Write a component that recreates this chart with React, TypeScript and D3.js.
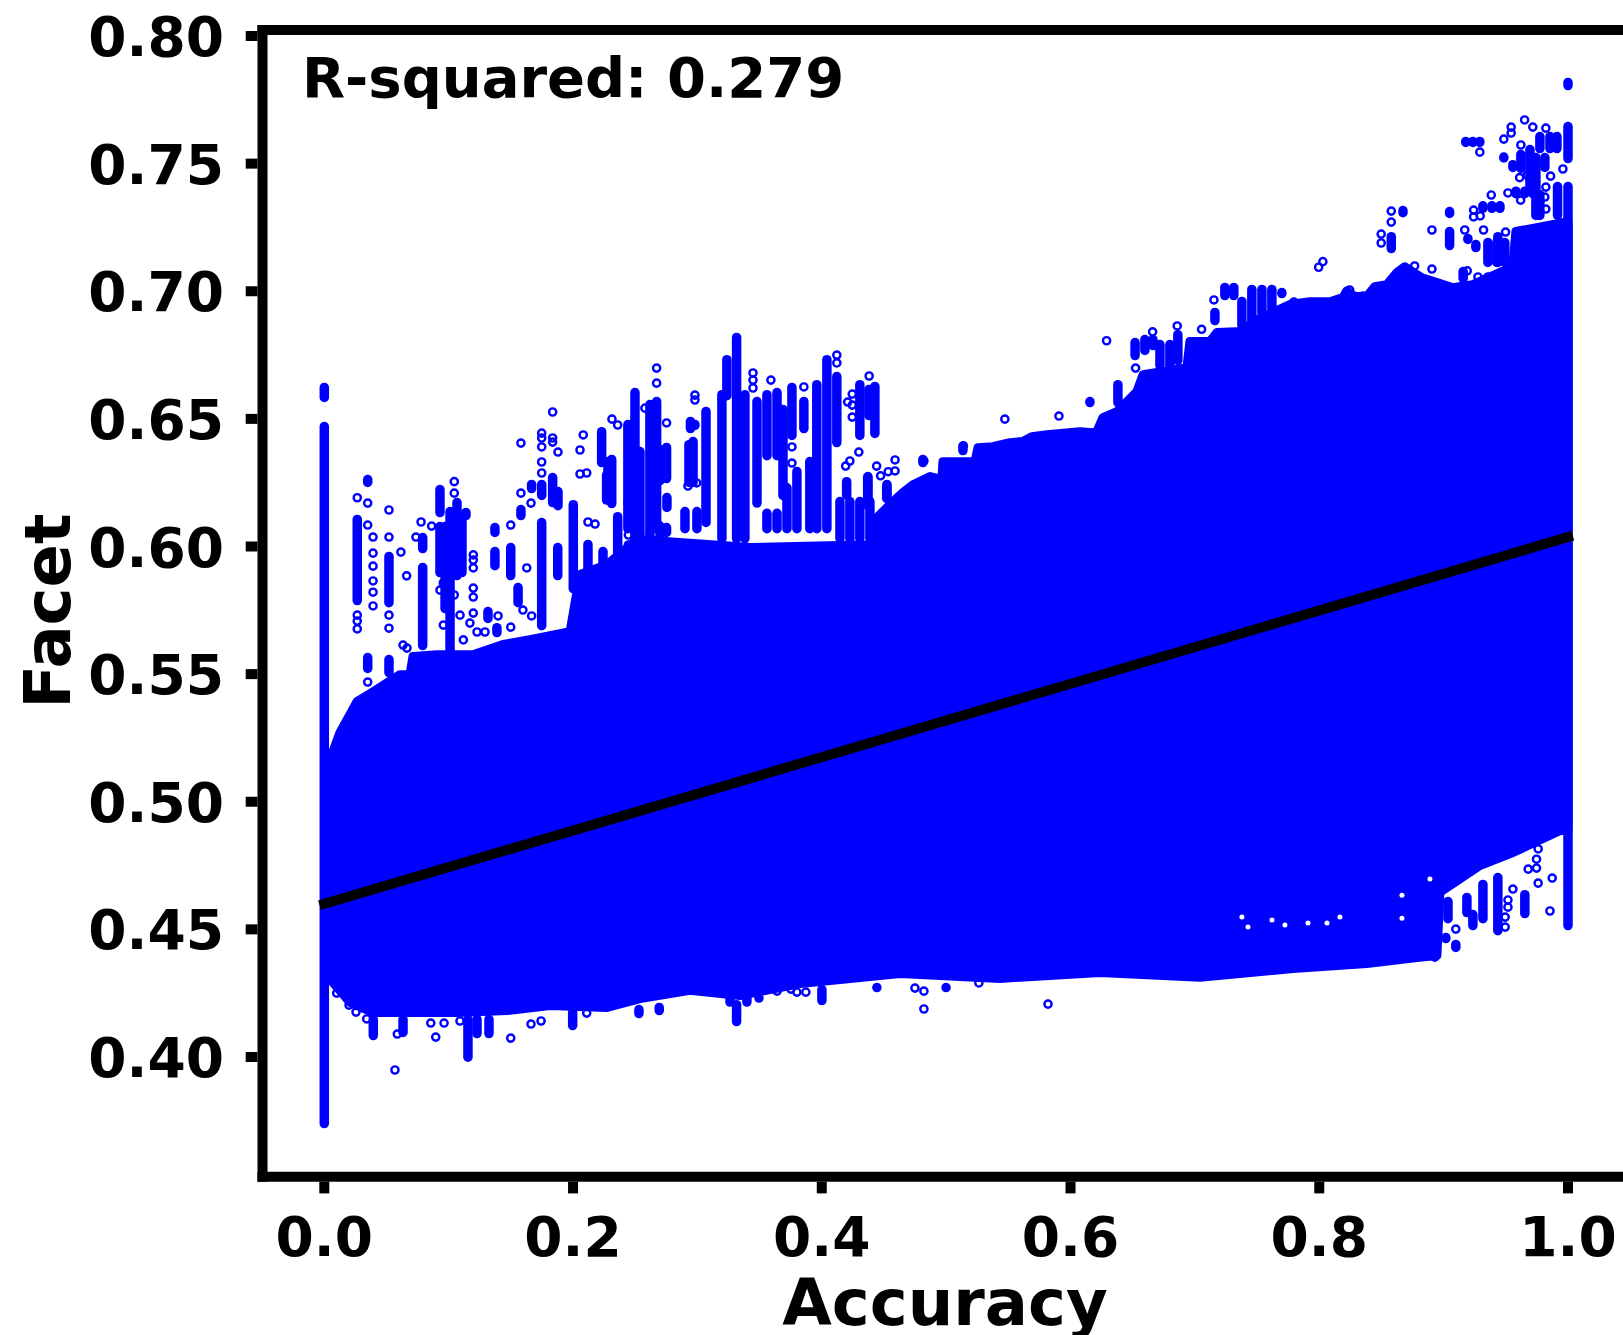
import React from 'react';
import * as d3 from 'd3';

const WIDTH = 1623;
const HEIGHT = 1335;
const BLUE = '#0000ff';
const FONT = '"DejaVu Sans", sans-serif';

const xTicks = [0, 0.2, 0.4, 0.6, 0.8, 1.0];
const yTicks = [0.4, 0.45, 0.5, 0.55, 0.6, 0.65, 0.7, 0.75, 0.8];

// regression line
const fitAccuracy = [0, 1];
const fitFacet = [0.46, 0.6037];
const rSquared = '0.279';

// outline of the solid part of the cloud: [accuracy, facet]
const upperEdge: [number, number][] = [
  [0.0046, 0.5165], [0.0126, 0.5271], [0.0263, 0.5392], [0.0392, 0.5431], [0.0609, 0.5498], [0.0689, 0.5498],
  [0.0713, 0.5569], [0.0906, 0.5576], [0.1195, 0.5576], [0.1437, 0.5616], [0.1654, 0.5635], [0.1976, 0.5666],
  [0.2056, 0.589], [0.2273, 0.5929], [0.2514, 0.6027], [0.3423, 0.5996], [0.4403, 0.6007], [0.4444, 0.6113],
  [0.4572, 0.6176], [0.4653, 0.6211], [0.4733, 0.6242], [0.487, 0.6274], [0.4966, 0.6262], [0.4974, 0.6332],
  [0.5111, 0.6332], [0.5232, 0.6332], [0.5256, 0.6387], [0.5376, 0.6391], [0.5513, 0.6407], [0.5617, 0.6411],
  [0.569, 0.643], [0.5811, 0.6438], [0.6076, 0.645], [0.618, 0.6446], [0.6212, 0.645], [0.6261, 0.6505],
  [0.6373, 0.6528], [0.6534, 0.6607], [0.6583, 0.6673], [0.6936, 0.6701], [0.696, 0.6803], [0.7121, 0.6803],
  [0.7177, 0.6838], [0.7387, 0.6842], [0.7467, 0.6881], [0.7764, 0.6948], [0.7925, 0.6959], [0.8086, 0.6959],
  [0.819, 0.6975], [0.8222, 0.7002], [0.8287, 0.6979], [0.8383, 0.6979], [0.8447, 0.7018], [0.8544, 0.7026],
  [0.8624, 0.7073], [0.8688, 0.7096], [0.8825, 0.7053], [0.8946, 0.7034], [0.9075, 0.7014], [0.9235, 0.7026],
  [0.9557, 0.7097], [0.9581, 0.7234], [1.0, 0.7273],
];
const lowerEdge: [number, number][] = [
  [0.007, 0.4292], [0.0207, 0.4214], [0.0392, 0.4174], [0.0713, 0.4174], [0.1067, 0.4174], [0.1469, 0.4182],
  [0.1815, 0.4202], [0.2273, 0.4194], [0.2538, 0.4229], [0.294, 0.4261], [0.3342, 0.4241], [0.3825, 0.4288],
  [0.463, 0.4327], [0.5432, 0.4308], [0.6237, 0.4331], [0.704, 0.4312], [0.7788, 0.4347], [0.8383, 0.4366],
  [0.8785, 0.439], [0.8946, 0.4398], [0.897, 0.4645], [0.9291, 0.475], [0.9557, 0.4801], [0.9934, 0.4887],
  [1.0, 0.4887],
];

// columns of markers packed so tight they read as bars: [accuracy, top, bottom]
const stacks: [number, number, number][] = [
  [0, 0.6623, 0.6584], [0, 0.647, 0.3739], [1, 0.7818, 0.7806], [1, 0.7645, 0.752], [1, 0.741, 0.4515],
  [0.0265, 0.6106, 0.5788], [0.0349, 0.6262, 0.6251], [0.0349, 0.5565, 0.5522], [0.052, 0.5961, 0.578],
  [0.052, 0.5557, 0.5506], [0.0791, 0.6035, 0.5992], [0.0791, 0.5918, 0.5612], [0.093, 0.6223, 0.6133],
  [0.093, 0.6078, 0.5898], [0.0971, 0.6078, 0.5757], [0.1011, 0.6137, 0.5584], [0.1067, 0.6172, 0.5886],
  [0.1107, 0.6106, 0.5898], [0.1139, 0.6133, 0.6121], [0.1316, 0.5745, 0.5718], [0.1388, 0.5682, 0.5663],
  [0.1372, 0.6074, 0.6055], [0.1372, 0.598, 0.5925],
  [0.1499, 0.5996, 0.5886], [0.1558, 0.5839, 0.578], [0.1748, 0.6094, 0.569], [0.1748, 0.6243, 0.62],
  [0.1667, 0.6243, 0.6227], [0.1581, 0.6145, 0.6121], [0.1836, 0.627, 0.6172], [0.1879, 0.6215, 0.616],
  [0.1877, 0.5996, 0.5886], [0.2002, 0.6164, 0.5835], [0.212, 0.6008, 0.5914], [0.223, 0.645, 0.6329],
  [0.227, 0.628, 0.6182], [0.2311, 0.6341, 0.6168], [0.2241, 0.598, 0.5937],
  [0.2281, 0.6333, 0.6251], [0.2359, 0.6117, 0.5976], [0.2474, 0.6478, 0.6423], [0.2474, 0.6368, 0.62],
  [0.2441, 0.6478, 0.607], [0.2498, 0.6603, 0.6031], [0.2538, 0.6372, 0.6015], [0.2618, 0.6556, 0.6015],
  [0.2672, 0.6568, 0.607], [0.2752, 0.6388, 0.6266], [0.2752, 0.6074, 0.6055], [0.2699, 0.638, 0.6258],
  [0.2699, 0.608, 0.6015], [0.2667, 0.6192, 0.616], [0.2755, 0.6192, 0.6153], [0.2965, 0.6411, 0.6251],
  [0.2944, 0.649, 0.6462],
  [0.2932, 0.6399, 0.6251], [0.3069, 0.6529, 0.6094], [0.298, 0.6478, 0.6474], [0.29, 0.6137, 0.607],
  [0.2996, 0.6137, 0.607], [0.3237, 0.6732, 0.6591], [0.3315, 0.6819, 0.6031], [0.3197, 0.6595, 0.6031],
  [0.3382, 0.6595, 0.6031], [0.3479, 0.6568, 0.617], [0.3559, 0.6595, 0.6356], [0.3559, 0.613, 0.607],
  [0.364, 0.6603, 0.6356], [0.364, 0.613, 0.607], [0.372, 0.623, 0.607],
  [0.3688, 0.6537, 0.62], [0.376, 0.6623, 0.6435], [0.38, 0.6294, 0.607], [0.3856, 0.6568, 0.6462],
  [0.3904, 0.6333, 0.607], [0.396, 0.6634, 0.607], [0.4041, 0.6732, 0.607], [0.4121, 0.6666, 0.6407],
  [0.4306, 0.6634, 0.6435], [0.4379, 0.6615, 0.6513], [0.4427, 0.6627, 0.6443], [0.42, 0.6254, 0.62],
  [0.4369, 0.627, 0.6172], [0.4371, 0.6274, 0.616], [0.4522, 0.6235, 0.6188], [0.4524, 0.6243, 0.62],
  [0.4146, 0.6176, 0.6031], [0.4226, 0.6176, 0.6031], [0.4306, 0.6176, 0.6031], [0.4387, 0.6176, 0.6031],
  [0.4813, 0.6341, 0.6329], [0.5135, 0.6392, 0.6376],
  [0.6156, 0.6568, 0.6564], [0.6381, 0.6634, 0.6564], [0.6519, 0.6799, 0.6748], [0.6598, 0.6811, 0.6768],
  [0.6663, 0.6811, 0.6787], [0.6719, 0.6791, 0.6709], [0.6799, 0.6791, 0.6709], [0.6863, 0.683, 0.6729],
  [0.696, 0.6772, 0.6736], [0.7161, 0.6917, 0.6885], [0.7241, 0.7015, 0.6983], [0.7313, 0.7015, 0.6983],
  [0.7378, 0.696, 0.6866], [0.7458, 0.7007, 0.6866], [0.7539, 0.7007, 0.6917], [0.7619, 0.7007, 0.6932],
  [0.7699, 0.6995, 0.6991],
  [0.8579, 0.7214, 0.7167], [0.8673, 0.7316, 0.7308], [0.9048, 0.7312, 0.7305], [0.9048, 0.7234, 0.7179],
  [0.9157, 0.7077, 0.705],
  [0.9178, 0.7587, 0.7583], [0.9235, 0.7587, 0.7583], [0.9291, 0.7587, 0.7583], [0.9259, 0.7183, 0.7171],
  [0.9195, 0.7207, 0.7203], [0.9356, 0.7191, 0.7113], [0.9428, 0.7191, 0.7113], [0.9492, 0.7191, 0.7113],
  [0.9436, 0.7214, 0.7113], [0.9316, 0.7335, 0.7325], [0.9388, 0.7335, 0.7325], [0.9453, 0.7335, 0.7325],
  [0.9581, 0.7392, 0.7382], [0.9653, 0.7392, 0.7382], [0.9717, 0.7392, 0.7382], [0.9742, 0.7524, 0.7297],
  [0.9621, 0.7536, 0.7481], [0.9557, 0.7496, 0.7485], [0.9484, 0.7526, 0.7522], [0.9774, 0.7606, 0.7559],
  [0.9855, 0.7606, 0.7559], [0.9911, 0.7606, 0.7559], [0.9694, 0.7555, 0.7414], [0.9814, 0.7524, 0.7485],
  [0.9916, 0.741, 0.7297], [0.9774, 0.7379, 0.7297],
  [0.0394, 0.4147, 0.4084], [0.0633, 0.4147, 0.4096], [0.1155, 0.4147, 0.3999], [0.1228, 0.4147, 0.4092],
  [0.1324, 0.4147, 0.4092], [0.1997, 0.4174, 0.4123], [0.253, 0.4186, 0.417], [0.2693, 0.4194, 0.4182],
  [0.3315, 0.4205, 0.4139], [0.3262, 0.4229, 0.4215], [0.3398, 0.4229, 0.4215], [0.3495, 0.4231, 0.4231],
  [0.4001, 0.4264, 0.4221], [0.4443, 0.4272, 0.4272], [0.4999, 0.4272, 0.4272],
  [0.9035, 0.4609, 0.4542], [0.9187, 0.4625, 0.4566], [0.9316, 0.4676, 0.4542], [0.9436, 0.4703, 0.4495],
  [0.9235, 0.4558, 0.4515], [0.9653, 0.4636, 0.4562], [0.9098, 0.4441, 0.4429], [0.9018, 0.4468, 0.4464],
];

// markers that stand on their own: [accuracy, facet]
const loosePoints: [number, number][] = [
  [0.0265, 0.6191], [0.0265, 0.5731], [0.0265, 0.5708], [0.0265, 0.5677], [0.0349, 0.617], [0.0349, 0.6084],
  [0.0349, 0.5469], [0.0392, 0.6037], [0.0392, 0.5974], [0.0392, 0.5923], [0.0392, 0.5865], [0.0392, 0.5821],
  [0.0392, 0.5767], [0.052, 0.6143], [0.052, 0.6037], [0.052, 0.5731], [0.052, 0.568], [0.0616, 0.5978],
  [0.0662, 0.5885], [0.0633, 0.5614], [0.0665, 0.5602], [0.0778, 0.6096], [0.0737, 0.6037], [0.0863, 0.608],
  [0.1045, 0.6254], [0.1045, 0.6209], [0.1198, 0.5967], [0.1198, 0.5947], [0.1198, 0.5916], [0.1198, 0.5837],
  [0.1198, 0.5802], [0.1198, 0.5739], [0.1499, 0.6084], [0.1628, 0.5916], [0.1748, 0.6444], [0.1748, 0.6425],
  [0.1748, 0.639], [0.1748, 0.6331], [0.1748, 0.6288], [0.1581, 0.6405], [0.1581, 0.6209], [0.1662, 0.617],
  [0.1171, 0.57], [0.1228, 0.5665], [0.1292, 0.5665], [0.1397, 0.5728], [0.1499, 0.5684], [0.1597, 0.5751],
  [0.1667, 0.5728], [0.1091, 0.5731], [0.1045, 0.581], [0.0957, 0.5692], [0.093, 0.5829], [0.0957, 0.5857],
  [0.1118, 0.5634],
  [0.1836, 0.6527], [0.1836, 0.6425], [0.1836, 0.6409], [0.1879, 0.637], [0.2056, 0.6378], [0.2056, 0.6284],
  [0.211, 0.6288], [0.2082, 0.6437], [0.2313, 0.6499], [0.2359, 0.6476], [0.2672, 0.6699], [0.2672, 0.664],
  [0.212, 0.6096], [0.2177, 0.6088], [0.2442, 0.617], [0.2445, 0.6076], [0.2445, 0.6045], [0.2445, 0.6006],
  [0.2924, 0.6237], [0.2994, 0.6249], [0.2578, 0.6542],
  [0.2752, 0.6484], [0.298, 0.6593], [0.298, 0.6574], [0.3447, 0.668], [0.3447, 0.6652], [0.3447, 0.6621],
  [0.3591, 0.6652], [0.376, 0.639], [0.376, 0.6327], [0.3856, 0.6625], [0.4121, 0.675], [0.4121, 0.6719],
  [0.4245, 0.6597], [0.4245, 0.6554], [0.4245, 0.6507], [0.4208, 0.6566], [0.4381, 0.6668], [0.4298, 0.637],
  [0.4226, 0.6335], [0.4192, 0.6315], [0.4441, 0.6315], [0.4589, 0.6339], [0.4589, 0.6296], [0.4534, 0.6293],
  [0.4473, 0.6277], [0.4821, 0.6335], [0.5472, 0.6499], [0.5138, 0.6395], [0.5907, 0.6511], [0.629, 0.6806],
  [0.6523, 0.6699], [0.666, 0.6841], [0.6858, 0.6864], [0.7054, 0.6851], [0.7153, 0.6966], [0.7796, 0.6958],
  [0.8244, 0.7005], [0.8351, 0.6981], [0.8029, 0.7116], [0.7995, 0.7094], [0.8579, 0.7314], [0.8579, 0.7271],
  [0.8498, 0.7224], [0.8498, 0.7189], [0.8906, 0.724], [0.917, 0.724], [0.9321, 0.724], [0.9498, 0.7232],
  [0.8767, 0.7099], [0.8906, 0.7087], [0.919, 0.708], [0.9276, 0.7056], [0.9356, 0.7056], [0.9316, 0.7013],
  [0.9651, 0.7671], [0.9717, 0.7643], [0.9822, 0.7639], [0.9543, 0.7643], [0.9543, 0.762], [0.9484, 0.7596],
  [0.9621, 0.7573], [0.9291, 0.7545], [0.986, 0.7451], [0.9959, 0.7479], [0.9611, 0.7445], [0.9672, 0.7455],
  [0.9517, 0.7385], [0.9383, 0.7377], [0.9822, 0.7408], [0.9814, 0.7369], [0.9822, 0.7322], [0.9619, 0.7357],
  [0.9241, 0.7318], [0.9241, 0.7291], [0.9294, 0.7295],
  [0.0568, 0.3949], [0.0587, 0.409], [0.0896, 0.4078], [0.1499, 0.4074], [0.1662, 0.4129], [0.1743, 0.4141],
  [0.211, 0.4172], [0.0856, 0.4133], [0.0963, 0.4133], [0.1091, 0.4141], [0.01, 0.425], [0.0199, 0.4203],
  [0.0255, 0.4176], [0.0341, 0.4149], [0.364, 0.4258], [0.3752, 0.4266], [0.38, 0.4254], [0.3872, 0.4254],
  [0.4821, 0.4188], [0.4821, 0.4258], [0.4749, 0.427], [0.5263, 0.429], [0.5819, 0.4207], [0.9855, 0.4572],
  [0.9873, 0.4701], [0.976, 0.4681], [0.9747, 0.474], [0.968, 0.4736], [0.9747, 0.4775], [0.976, 0.4815],
  [0.9557, 0.4658], [0.9495, 0.4509], [0.9495, 0.4548], [0.9517, 0.4615], [0.9517, 0.4587], [0.9098, 0.4501],
  [0.8929, 0.4391],
];

// small unfilled specks left inside the cloud near its lower edge
const gapPoints: [number, number][] = [
  [0.7378, 0.4548], [0.7427, 0.4509], [0.762, 0.4537], [0.7724, 0.4517], [0.7909, 0.4525],
  [0.8166, 0.4548], [0.8062, 0.4525], [0.8665, 0.4634], [0.889, 0.4697], [0.8665, 0.4544],
];

const x = d3.scaleLinear().domain([0, 1]).range([324.3, 1568]);
const y = d3.scaleLinear().domain([0.4, 0.8]).range([1057, 36]);

const edgePath = d3.line<[number, number]>()
  .x(d => x(d[0]))
  .y(d => y(d[1]));

const App = () => {
  const cloud = edgePath([...upperEdge, ...[...lowerEdge].reverse()]) + 'Z';

  return (
    <svg
      width={WIDTH}
      height={HEIGHT}
      viewBox={`0 0 ${WIDTH} ${HEIGHT}`}
      style={{ position: 'absolute', top: 0, left: 0, background: '#fff' }}
      fontFamily={FONT}
      fontWeight="bold"
    >
      {/* points */}
      <path d={cloud} fill={BLUE} stroke={BLUE} strokeWidth={9} strokeLinejoin="round" />
      {gapPoints.map(([a, f], i) => (
        <circle key={i} cx={x(a)} cy={y(f)} r={2.5} fill="#fff" />
      ))}
      {stacks.map(([a, top, bottom], i) => (
        <line
          key={i}
          x1={x(a)}
          x2={x(a)}
          y1={y(top)}
          y2={y(bottom)}
          stroke={BLUE}
          strokeWidth={9.5}
          strokeLinecap="round"
        />
      ))}
      {loosePoints.map(([a, f], i) => (
        <circle key={i} cx={x(a)} cy={y(f)} r={3.6} fill="none" stroke={BLUE} strokeWidth={2.4} />
      ))}

      {/* fit */}
      <line
        x1={x(fitAccuracy[0])}
        x2={x(fitAccuracy[1])}
        y1={y(fitFacet[0])}
        y2={y(fitFacet[1])}
        stroke="#000"
        strokeWidth={10}
        strokeLinecap="square"
      />

      {/* frame */}
      <line x1={262.5} x2={262.5} y1={25} y2={1181.7} stroke="#000" strokeWidth={10} />
      <line x1={257.5} x2={WIDTH} y1={30} y2={30} stroke="#000" strokeWidth={10} />
      <line x1={257.5} x2={WIDTH} y1={1176.7} y2={1176.7} stroke="#000" strokeWidth={10} />

      {/* axes */}
      {xTicks.map(t => (
        <g key={t}>
          <line x1={x(t)} x2={x(t)} y1={1181.7} y2={1193.4} stroke="#000" strokeWidth={10} />
          <text x={x(t)} y={1256} textAnchor="middle" fontSize={55}>{t.toFixed(1)}</text>
        </g>
      ))}
      {yTicks.map(t => (
        <g key={t}>
          <line x1={245.7} x2={257.5} y1={y(t)} y2={y(t)} stroke="#000" strokeWidth={10} />
          <text x={224} y={y(t) + 20} textAnchor="end" fontSize={55}>{t.toFixed(2)}</text>
        </g>
      ))}

      <text x={945} y={1325} textAnchor="middle" fontSize={64}>Accuracy</text>
      <text transform="translate(70,611) rotate(-90)" textAnchor="middle" fontSize={64}>Facet</text>
      <text x={302} y={97} fontSize={56}>{`R-squared: ${rSquared}`}</text>
    </svg>
  );
};

export default App;
